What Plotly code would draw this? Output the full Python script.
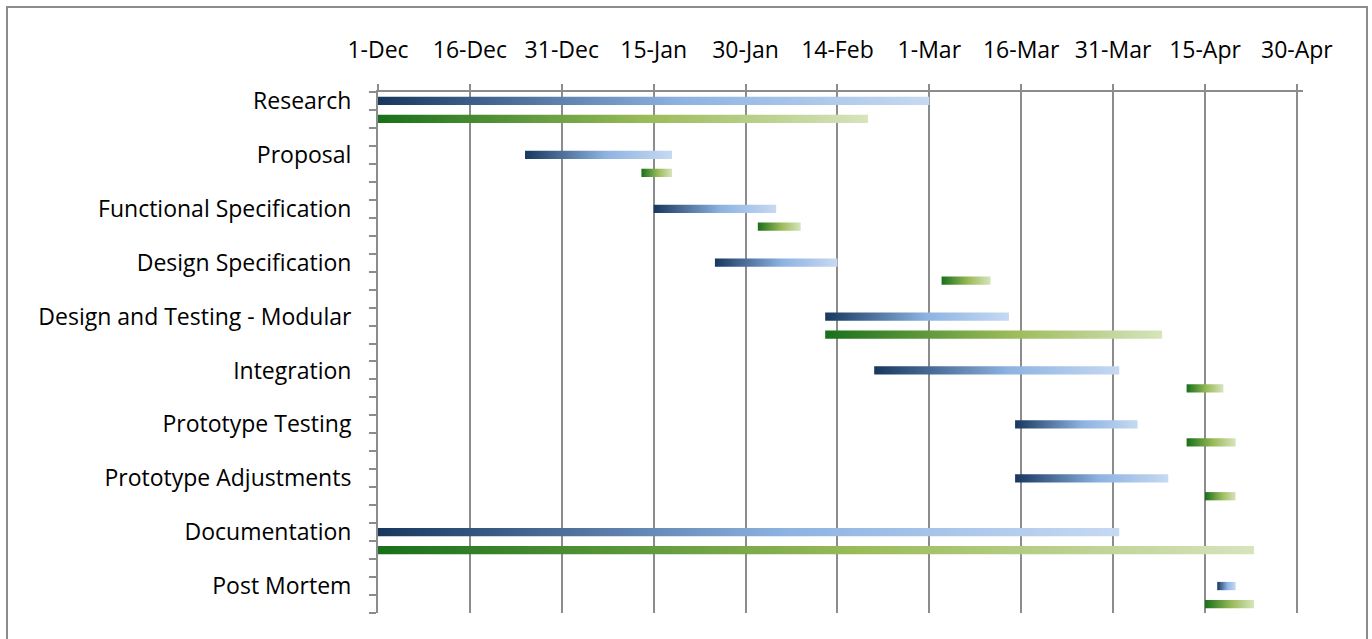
import plotly.graph_objects as go
import pandas as pd

tasks = ["Research", "Proposal", "Functional Specification", "Design Specification",
         "Design and Testing - Modular", "Integration", "Prototype Testing",
         "Prototype Adjustments", "Documentation", "Post Mortem"]
planned_start = ["2012-12-01", "2012-12-25", "2013-01-15", "2013-01-25", "2013-02-12",
                 "2013-02-20", "2013-03-15", "2013-03-15", "2012-12-01", "2013-04-17"]
planned_end = ["2013-03-01", "2013-01-18", "2013-02-04", "2013-02-14", "2013-03-14",
               "2013-04-01", "2013-04-04", "2013-04-09", "2013-04-01", "2013-04-20"]
actual_start = ["2012-12-01", "2013-01-13", "2013-02-01", "2013-03-03", "2013-02-12",
                "2013-04-12", "2013-04-12", "2013-04-15", "2012-12-01", "2013-04-15"]
actual_end = ["2013-02-19", "2013-01-18", "2013-02-08", "2013-03-11", "2013-04-08",
              "2013-04-18", "2013-04-20", "2013-04-20", "2013-04-23", "2013-04-23"]
tick_dates = pd.date_range("2012-12-01", "2013-04-30", freq="15D")
tick_labels = [f"{d.day}-{d.strftime('%b')}" for d in tick_dates]

blue_scale = [[0, "#17375e"], [0.55, "#8db3e2"], [1, "#c6d9f1"]]
green_scale = [[0, "#18701a"], [0.55, "#9bbb59"], [1, "#d7e4bd"]]
half = 0.23

fig = go.Figure()


def add_bar(start, end, slot, scale):
    fig.add_trace(go.Scatter(
        x=[start, end, end, start, start],
        y=[slot - half, slot - half, slot + half, slot + half, slot - half],
        fill="toself", mode="none",
        fillgradient=dict(type="horizontal", colorscale=scale),
        hoverinfo="skip", showlegend=False,
    ))


for i in range(len(tasks)):
    add_bar(planned_start[i], planned_end[i], 3 * i, blue_scale)
    add_bar(actual_start[i], actual_end[i], 3 * i + 1, green_scale)

n_slots = 3 * len(tasks) - 1
font = "Open Sans"

fig.update_layout(
    width=1372, height=639,
    margin=dict(l=378, r=69, t=92, b=26),
    paper_bgcolor="white", plot_bgcolor="white",
    font=dict(family=font, size=23, color="black"),
    xaxis=dict(
        type="date", side="top",
        range=["2012-12-01", "2013-05-01"],
        tickvals=list(tick_dates), ticktext=tick_labels,
        ticks="outside", ticklen=6, tickcolor="#8c8c8c", tickwidth=2,
        showgrid=True, gridcolor="#8c8c8c", gridwidth=2,
        showline=True, linecolor="#8c8c8c", linewidth=2,
        zeroline=False, tickfont=dict(size=23), ticklabelstandoff=17,
    ),
    yaxis=dict(
        range=[n_slots - 0.5, -0.5],
        tickvals=[3 * i for i in range(len(tasks))], ticktext=tasks,
        ticks="", showgrid=False, zeroline=False,
        showline=True, linecolor="#8c8c8c", linewidth=2,
        tickfont=dict(size=23), ticklabelstandoff=20,
        minor=dict(tickmode="array", tickvals=[k - 0.5 for k in range(n_slots + 1)],
                   ticks="outside", ticklen=7, tickcolor="#8c8c8c", tickwidth=2,
                   showgrid=False),
    ),
    shapes=[dict(type="rect", xref="paper", yref="paper",
                 x0=(7 - 378) / 925, x1=(1367 - 378) / 925,
                 y0=-0.2, y1=(639 - 26 - 7) / 521,
                 line=dict(color="#8c8c8c", width=2), fillcolor="rgba(0,0,0,0)",
                 layer="below")],
)

fig.write_html("out.html")
